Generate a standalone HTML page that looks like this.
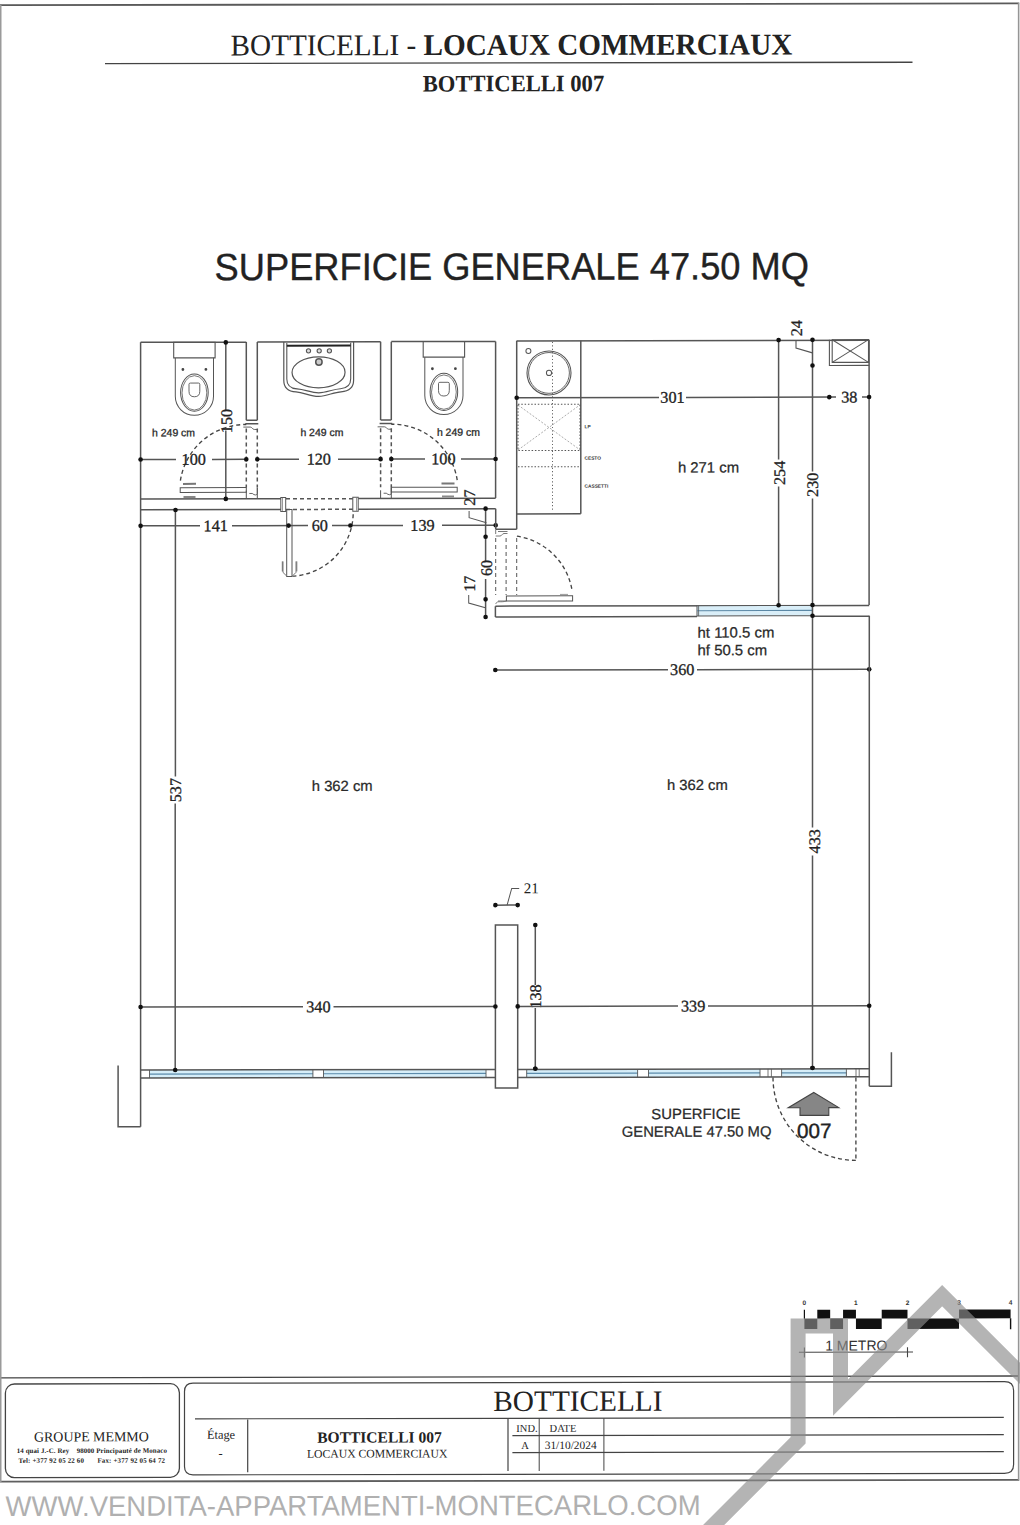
<!DOCTYPE html>
<html><head><meta charset="utf-8"><title>Botticelli 007</title>
<style>
html,body{margin:0;padding:0;background:#fff;}
body{width:1020px;height:1525px;overflow:hidden;font-family:"Liberation Sans",sans-serif;}
svg{display:block;}
</style></head><body>
<svg width="1020" height="1525" viewBox="0 0 1020 1525">
<rect width="1020" height="1525" fill="#fff"/>
<g transform="matrix(1 -0.0018 0 1 0 0.918)">
<text x="230.6" y="54.9" font-family='"Liberation Serif", serif' font-size="29.2" font-weight="400" text-anchor="start" fill="#222" transform="translate(230.6 54.9) scale(1 1.03) translate(-230.6 -54.9)">BOTTICELLI - <tspan font-weight="700">LOCAUX COMMERCIAUX</tspan></text>
<line x1="105" y1="62.9" x2="912.5" y2="62.9" stroke="#444" stroke-width="1.4"/>
<text x="513.5" y="91.3" font-family='"Liberation Serif", serif' font-size="22.6" font-weight="700" text-anchor="middle" fill="#222" transform="translate(513.5 91.3) scale(1 1.04) translate(-513.5 -91.3)">BOTTICELLI 007</text>
<text x="214.6" y="279.7" font-family='"Liberation Sans", sans-serif' font-size="36.27" font-weight="400" text-anchor="start" fill="#222" transform="translate(214.6 279.7) scale(1 1.05) translate(-214.6 -279.7)" stroke="#222" stroke-width="0.35">SUPERFICIE GENERALE 47.50 MQ</text>
<line x1="140.6" y1="341.7" x2="246.3" y2="341.7" stroke="#555" stroke-width="1.5"/>
<line x1="257.3" y1="341.5" x2="380.6" y2="341.5" stroke="#555" stroke-width="1.5"/>
<line x1="391.3" y1="341.4" x2="495.6" y2="341.4" stroke="#555" stroke-width="1.5"/>
<line x1="140.6" y1="341.7" x2="140.6" y2="1126" stroke="#555" stroke-width="1.5"/>
<line x1="246.3" y1="341.6" x2="246.3" y2="419.8" stroke="#555" stroke-width="1.5"/>
<line x1="257.3" y1="341.5" x2="257.3" y2="419.8" stroke="#555" stroke-width="1.5"/>
<line x1="246.3" y1="419.8" x2="257.3" y2="419.8" stroke="#555" stroke-width="1.5"/>
<line x1="245.3" y1="423.2" x2="258.3" y2="423.2" stroke="#555" stroke-width="1.5"/>
<path d="M243.3,426.6 L250.3,426.6 C252.3,426.6 252.3,429 254.3,429 L257.3,429" fill="none" stroke="#555" stroke-width="0.9"/>
<line x1="246.3" y1="428" x2="246.3" y2="487" stroke="#555" stroke-width="1.5" stroke-dasharray="4 3"/>
<line x1="257.3" y1="428" x2="257.3" y2="487" stroke="#555" stroke-width="1.5" stroke-dasharray="4 3"/>
<path d="M257.3,487.5 V493 C257.3,495 254.3,495 252.3,493 L249.3,493" fill="none" stroke="#555" stroke-width="0.9"/>
<line x1="246.3" y1="490" x2="246.3" y2="498.2" stroke="#555" stroke-width="1"/>
<line x1="257.3" y1="487" x2="257.3" y2="498.2" stroke="#555" stroke-width="1"/>
<line x1="380.6" y1="341.6" x2="380.6" y2="419.8" stroke="#555" stroke-width="1.5"/>
<line x1="391.3" y1="341.5" x2="391.3" y2="419.8" stroke="#555" stroke-width="1.5"/>
<line x1="380.6" y1="419.8" x2="391.3" y2="419.8" stroke="#555" stroke-width="1.5"/>
<line x1="379.6" y1="423.2" x2="392.3" y2="423.2" stroke="#555" stroke-width="1.5"/>
<path d="M377.6,426.6 L384.6,426.6 C386.6,426.6 386.6,429 388.6,429 L391.3,429" fill="none" stroke="#555" stroke-width="0.9"/>
<line x1="380.6" y1="428" x2="380.6" y2="487" stroke="#555" stroke-width="1.5" stroke-dasharray="4 3"/>
<line x1="391.3" y1="428" x2="391.3" y2="487" stroke="#555" stroke-width="1.5" stroke-dasharray="4 3"/>
<path d="M391.3,487.5 V493 C391.3,495 388.3,495 386.3,493 L383.6,493" fill="none" stroke="#555" stroke-width="0.9"/>
<line x1="380.6" y1="490" x2="380.6" y2="498.2" stroke="#555" stroke-width="1"/>
<line x1="391.3" y1="487" x2="391.3" y2="498.2" stroke="#555" stroke-width="1"/>
<line x1="495.6" y1="341.4" x2="495.6" y2="498.1" stroke="#555" stroke-width="1.5"/>
<line x1="140.6" y1="498.3" x2="281" y2="498.3" stroke="#555" stroke-width="1.5"/>
<line x1="358.2" y1="498.3" x2="495.6" y2="498.1" stroke="#555" stroke-width="1.5"/>
<line x1="286" y1="498.4" x2="352.8" y2="498.4" stroke="#555" stroke-width="1.5" stroke-dasharray="4 3"/>
<rect x="180.2" y="487.1" width="66.10000000000002" height="4.699999999999989" rx="0" fill="none" stroke="#555" stroke-width="1"/>
<rect x="183" y="482.3" width="13" height="2" fill="#777"/>
<rect x="183.5" y="495.4" width="12" height="2" fill="#888"/>
<path d="M180.4,480 A66,66 0 0 1 246.3,424" fill="none" stroke="#444" stroke-width="1.35" stroke-dasharray="4 3"/>
<rect x="391.3" y="487.1" width="65.89999999999998" height="4.699999999999989" rx="0" fill="none" stroke="#555" stroke-width="1"/>
<rect x="441.5" y="482.3" width="13" height="2" fill="#777"/>
<rect x="442" y="495.4" width="12" height="2" fill="#888"/>
<path d="M457.2,480 A66,66 0 0 0 391.3,424" fill="none" stroke="#444" stroke-width="1.35" stroke-dasharray="4 3"/>
<rect x="173.70000000000002" y="341.7" width="41.39999999999998" height="15.600000000000023" rx="0" fill="none" stroke="#555" stroke-width="1.1"/>
<path d="M175.3,357.3 L175.3,395.7 A19.0,19.0 0 0 0 213.5,395.7 L213.5,357.3" fill="none" stroke="#555" stroke-width="1.0"/>
<ellipse cx="194.4" cy="392.0" rx="13.8" ry="18.6" fill="none" stroke="#555" stroke-width="1.0"/>
<ellipse cx="194.4" cy="392.3" rx="12.4" ry="17.2" fill="none" stroke="#555" stroke-width="0.8"/>
<path d="M189.0,383.7 Q189.0,382.5 190.4,382.5 L198.4,382.5 Q199.8,382.5 199.8,383.7 L199.8,390.7 Q199.8,396.2 194.4,396.2 Q189.0,396.2 189.0,390.7 Z" fill="none" stroke="#555" stroke-width="0.9"/>
<circle cx="182.9" cy="368.9" r="1.4" fill="#444"/>
<circle cx="205.9" cy="368.9" r="1.4" fill="#444"/>
<rect x="423.2" y="341.4" width="41.39999999999998" height="15.600000000000023" rx="0" fill="none" stroke="#555" stroke-width="1.1"/>
<path d="M424.79999999999995,357.0 L424.79999999999995,395.4 A19.0,19.0 0 0 0 463.0,395.4 L463.0,357.0" fill="none" stroke="#555" stroke-width="1.0"/>
<ellipse cx="443.9" cy="391.7" rx="13.8" ry="18.6" fill="none" stroke="#555" stroke-width="1.0"/>
<ellipse cx="443.9" cy="392.0" rx="12.4" ry="17.2" fill="none" stroke="#555" stroke-width="0.8"/>
<path d="M438.5,383.4 Q438.5,382.2 439.9,382.2 L447.9,382.2 Q449.29999999999995,382.2 449.29999999999995,383.4 L449.29999999999995,390.4 Q449.29999999999995,395.9 443.9,395.9 Q438.5,395.9 438.5,390.4 Z" fill="none" stroke="#555" stroke-width="0.9"/>
<circle cx="432.4" cy="368.59999999999997" r="1.4" fill="#444"/>
<circle cx="455.4" cy="368.59999999999997" r="1.4" fill="#444"/>
<path d="M283.8,341.5 V380 C283.8,388 289,391 296,391.5 C304,392 310,396 318.7,396 C327,396 333,392 341,391.5 C348,391 353.6,388 353.6,380 V341.5" fill="none" stroke="#555" stroke-width="1.2"/>
<path d="M286.8,342.5 V378.5 C286.8,385 291,388 297,388.5 C305,389 311,392.5 318.7,392.5 C326.5,392.5 332.5,389 340.5,388.5 C346.5,388 350.7,385 350.7,378.5 V342.5" fill="none" stroke="#555" stroke-width="1.1"/>
<line x1="286.8" y1="345.3" x2="350.7" y2="345.3" stroke="#222" stroke-width="2.0"/>
<ellipse cx="318.55" cy="372" rx="26.5" ry="15.5" fill="none" stroke="#555" stroke-width="1.2"/>
<circle cx="318.9" cy="361.7" r="3.2" fill="#ccc" stroke="#555" stroke-width="1.5"/>
<circle cx="308.5" cy="350.5" r="2.1" fill="#ddd" stroke="#555" stroke-width="1.1"/>
<circle cx="319.2" cy="350.5" r="2.1" fill="#ddd" stroke="#555" stroke-width="1.1"/>
<circle cx="329.4" cy="350.5" r="2.1" fill="#ddd" stroke="#555" stroke-width="1.1"/>
<text x="152.1" y="435.6" font-family='"Liberation Sans", sans-serif' font-size="10.45" font-weight="400" text-anchor="start" fill="#2a2a2a" stroke="#2a2a2a" stroke-width="0.3">h 249 cm</text>
<text x="300.4" y="435.6" font-family='"Liberation Sans", sans-serif' font-size="10.45" font-weight="400" text-anchor="start" fill="#2a2a2a" stroke="#2a2a2a" stroke-width="0.3">h 249 cm</text>
<text x="436.9" y="435.6" font-family='"Liberation Sans", sans-serif' font-size="10.45" font-weight="400" text-anchor="start" fill="#2a2a2a" stroke="#2a2a2a" stroke-width="0.3">h 249 cm</text>
<line x1="140.6" y1="458.9" x2="176" y2="458.9" stroke="#555" stroke-width="1.5"/>
<line x1="212" y1="458.9" x2="246.3" y2="458.9" stroke="#555" stroke-width="1.5"/>
<line x1="257.3" y1="458.9" x2="299" y2="458.9" stroke="#555" stroke-width="1.5"/>
<line x1="338" y1="458.9" x2="380.6" y2="458.9" stroke="#555" stroke-width="1.5"/>
<line x1="391.3" y1="458.9" x2="425" y2="458.9" stroke="#555" stroke-width="1.5"/>
<line x1="461" y1="458.9" x2="495.6" y2="458.9" stroke="#555" stroke-width="1.5"/>
<circle cx="140.6" cy="458.9" r="2.3" fill="#111"/>
<circle cx="246.3" cy="458.9" r="2.3" fill="#111"/>
<circle cx="257.3" cy="458.9" r="2.3" fill="#111"/>
<circle cx="380.6" cy="458.9" r="2.3" fill="#111"/>
<circle cx="391.3" cy="458.9" r="2.3" fill="#111"/>
<circle cx="495.6" cy="458.9" r="2.3" fill="#111"/>
<text x="193.7" y="464.2" font-family='"Liberation Serif", serif' font-size="16.2" font-weight="400" text-anchor="middle" fill="#222" stroke="#222" stroke-width="0.3">100</text>
<text x="318.8" y="464.2" font-family='"Liberation Serif", serif' font-size="16.2" font-weight="400" text-anchor="middle" fill="#222" stroke="#222" stroke-width="0.3">120</text>
<text x="443.4" y="464.2" font-family='"Liberation Serif", serif' font-size="16.2" font-weight="400" text-anchor="middle" fill="#222" stroke="#222" stroke-width="0.3">100</text>
<line x1="225.8" y1="342" x2="225.8" y2="410" stroke="#555" stroke-width="1.5"/>
<line x1="225.8" y1="430" x2="225.8" y2="498.4" stroke="#555" stroke-width="1.5"/>
<circle cx="225.8" cy="341.9" r="2.3" fill="#111"/>
<circle cx="225.8" cy="498.4" r="2.3" fill="#111"/>
<text x="0" y="0" font-family='"Liberation Serif", serif' font-size="16.2" text-anchor="middle" fill="#222" stroke="#222" stroke-width="0.3" transform="translate(226.5 420.5) rotate(-90) translate(0 5.35)">150</text>
<line x1="140.6" y1="509.1" x2="281" y2="509.1" stroke="#555" stroke-width="1.5"/>
<line x1="358.2" y1="509.0" x2="495.7" y2="508.7" stroke="#555" stroke-width="1.5"/>
<line x1="286" y1="509.1" x2="352.8" y2="509.0" stroke="#555" stroke-width="1.5" stroke-dasharray="4 3"/>
<rect x="280.8" y="497" width="4.899999999999977" height="14.199999999999989" rx="0" fill="none" stroke="#555" stroke-width="1"/>
<rect x="352.8" y="497" width="5.399999999999977" height="14" rx="0" fill="none" stroke="#555" stroke-width="1"/>
<line x1="282.5" y1="497.5" x2="282.5" y2="510.5" stroke="#555" stroke-width="0.6"/>
<line x1="356.5" y1="497.5" x2="356.5" y2="510.5" stroke="#555" stroke-width="0.6"/>
<rect x="286.7" y="509.2" width="5.300000000000011" height="67.00000000000006" rx="0" fill="none" stroke="#555" stroke-width="1"/>
<path d="M292.5,575.8 A63.8,63.8 0 0 0 353.2,511" fill="none" stroke="#444" stroke-width="1.35" stroke-dasharray="4 3"/>
<path d="M283,561 V572 L286,575" fill="none" stroke="#555" stroke-width="0.8"/>
<path d="M296,561 V572 L293,575" fill="none" stroke="#555" stroke-width="0.8"/>
<line x1="282.3" y1="561" x2="282.3" y2="571" stroke="#555" stroke-width="0.8"/>
<line x1="296.8" y1="561" x2="296.8" y2="571" stroke="#555" stroke-width="0.8"/>
<line x1="140.6" y1="525.2" x2="200" y2="525.2" stroke="#555" stroke-width="1.5"/>
<line x1="232" y1="525.2" x2="308" y2="525.2" stroke="#555" stroke-width="1.5"/>
<line x1="332" y1="525.2" x2="403" y2="525.2" stroke="#555" stroke-width="1.5"/>
<line x1="442" y1="525.2" x2="495.7" y2="525.2" stroke="#555" stroke-width="1.5"/>
<circle cx="140.6" cy="525.2" r="2.3" fill="#111"/>
<circle cx="288.6" cy="525.2" r="2.3" fill="#111"/>
<circle cx="350.4" cy="525.2" r="2.3" fill="#111"/>
<circle cx="495.7" cy="525.2" r="2.3" fill="#111"/>
<text x="215.7" y="530.6" font-family='"Liberation Serif", serif' font-size="16.2" font-weight="400" text-anchor="middle" fill="#222" stroke="#222" stroke-width="0.3">141</text>
<text x="319.8" y="530.6" font-family='"Liberation Serif", serif' font-size="16.2" font-weight="400" text-anchor="middle" fill="#222" stroke="#222" stroke-width="0.3">60</text>
<text x="422.5" y="530.6" font-family='"Liberation Serif", serif' font-size="16.2" font-weight="400" text-anchor="middle" fill="#222" stroke="#222" stroke-width="0.3">139</text>
<line x1="175.4" y1="509.4" x2="175.4" y2="776" stroke="#555" stroke-width="1.5"/>
<line x1="175.2" y1="803" x2="175.2" y2="1069.4" stroke="#555" stroke-width="1.5"/>
<circle cx="175.5" cy="509.4" r="2.3" fill="#111"/>
<text x="0" y="0" font-family='"Liberation Serif", serif' font-size="16.2" text-anchor="middle" fill="#222" stroke="#222" stroke-width="0.3" transform="translate(176.0 789.5) rotate(-90) translate(0 5.35)">537</text>
<line x1="495.7" y1="508.7" x2="495.7" y2="529.2" stroke="#555" stroke-width="1.5"/>
<line x1="495.7" y1="529.2" x2="516.7" y2="529.2" stroke="#555" stroke-width="1.5"/>
<line x1="516.7" y1="340.8" x2="516.7" y2="529.2" stroke="#555" stroke-width="1.5"/>
<line x1="485.6" y1="508.6" x2="485.6" y2="561" stroke="#555" stroke-width="1.5"/>
<line x1="485.6" y1="579" x2="485.6" y2="617" stroke="#555" stroke-width="1.5"/>
<circle cx="485.6" cy="508.6" r="2.3" fill="#111"/>
<circle cx="485.6" cy="536.7" r="2.3" fill="#111"/>
<circle cx="485.6" cy="599.3" r="2.3" fill="#111"/>
<circle cx="485.6" cy="617" r="2.3" fill="#111"/>
<text x="0" y="0" font-family='"Liberation Serif", serif' font-size="16.2" text-anchor="middle" fill="#222" stroke="#222" stroke-width="0.3" transform="translate(470.0 497.5) rotate(-90) translate(0 5.35)">27</text>
<polyline points="469.1,511 469.1,517.6 486.4,522.7" fill="none" stroke="#555" stroke-width="1"/>
<text x="0" y="0" font-family='"Liberation Serif", serif' font-size="16.2" text-anchor="middle" fill="#222" stroke="#222" stroke-width="0.3" transform="translate(486.6 567.9) rotate(-90) translate(0 5.35)">60</text>
<text x="0" y="0" font-family='"Liberation Serif", serif' font-size="16.2" text-anchor="middle" fill="#222" stroke="#222" stroke-width="0.3" transform="translate(469.4 583.7) rotate(-90) translate(0 5.35)">17</text>
<polyline points="468.7,594.9 468.7,603 485.4,607.8" fill="none" stroke="#555" stroke-width="1"/>
<path d="M495.7,529.5 L495.7,534 M498,531.5 H507.5 M495.7,536 H500 C502,536 502,533.5 504,533.5 H507.5" fill="none" stroke="#555" stroke-width="0.8"/>
<line x1="495.7" y1="538" x2="495.7" y2="595" stroke="#555" stroke-width="1" stroke-dasharray="4 3"/>
<line x1="506.1" y1="538" x2="506.1" y2="595" stroke="#555" stroke-width="1" stroke-dasharray="4 3"/>
<line x1="516.7" y1="538" x2="516.7" y2="595" stroke="#555" stroke-width="1" stroke-dasharray="4 3"/>
<rect x="506.4" y="595.9" width="66.20000000000005" height="5.100000000000023" rx="0" fill="none" stroke="#555" stroke-width="1"/>
<line x1="498" y1="601" x2="506.4" y2="601" stroke="#555" stroke-width="0.8"/>
<path d="M495.7,604 C497,600 500,603 506.4,601" fill="none" stroke="#555" stroke-width="0.7"/>
<path d="M516.9,536.2 A65.8,65.8 0 0 1 572,590" fill="none" stroke="#444" stroke-width="1.35" stroke-dasharray="4 3"/>
<line x1="560" y1="594.5" x2="568" y2="594.5" stroke="#555" stroke-width="0.6"/>
<line x1="495.4" y1="606.1" x2="869.2" y2="606.1" stroke="#555" stroke-width="1.5"/>
<line x1="495.4" y1="616.9" x2="697" y2="616.9" stroke="#555" stroke-width="1.5"/>
<line x1="812.4" y1="616.9" x2="869.3" y2="616.9" stroke="#555" stroke-width="1.5"/>
<line x1="495.4" y1="606.2" x2="495.4" y2="617" stroke="#555" stroke-width="1.5"/>
<rect x="697" y="606" width="115.39999999999998" height="10.299999999999955" rx="0" fill="#d9eef8" stroke="#555" stroke-width="1"/>
<line x1="697" y1="611.1" x2="812.4" y2="610.9" stroke="#5b88a6" stroke-width="1.1"/>
<line x1="698.6" y1="606" x2="698.6" y2="616.3" stroke="#555" stroke-width="0.8"/>
<line x1="516.7" y1="340.9" x2="869.1" y2="340.9" stroke="#555" stroke-width="1.5"/>
<line x1="869.1" y1="340.3" x2="869.1" y2="605.7" stroke="#555" stroke-width="1.5"/>
<line x1="580.8" y1="340.8" x2="580.8" y2="513.9" stroke="#555" stroke-width="1.5"/>
<line x1="516.7" y1="513.9" x2="580.8" y2="513.9" stroke="#555" stroke-width="1.5"/>
<circle cx="549" cy="373" r="22" fill="none" stroke="#555" stroke-width="1.1"/>
<circle cx="549" cy="373" r="20.4" fill="none" stroke="#555" stroke-width="0.9"/>
<circle cx="549" cy="373" r="2.6" fill="none" stroke="#555" stroke-width="1"/>
<circle cx="528.4" cy="351" r="2.5" fill="none" stroke="#555" stroke-width="1"/>
<line x1="552.5" y1="342" x2="552.5" y2="512" stroke="#666" stroke-width="1" stroke-dasharray="1.2 2.2"/>
<rect x="518" y="404.3" width="62" height="46.19999999999999" rx="0" fill="none" stroke="#555" stroke-width="1" stroke-dasharray="1.5 1.8"/>
<line x1="518" y1="405" x2="580" y2="450" stroke="#888" stroke-width="0.7" stroke-dasharray="2 1.6"/>
<line x1="518" y1="450" x2="580" y2="405" stroke="#888" stroke-width="0.7" stroke-dasharray="2 1.6"/>
<line x1="518" y1="466.8" x2="580" y2="466.8" stroke="#555" stroke-width="1" stroke-dasharray="1.5 1.8"/>
<text x="584.5" y="428.5" font-family='"Liberation Sans", sans-serif' font-size="4.8" font-weight="700" text-anchor="start" fill="#333">LP</text>
<text x="584.5" y="460" font-family='"Liberation Sans", sans-serif' font-size="4.8" font-weight="700" text-anchor="start" fill="#333">CESTO</text>
<text x="584.5" y="488" font-family='"Liberation Sans", sans-serif' font-size="4.8" font-weight="700" text-anchor="start" fill="#333">CASSETTI</text>
<line x1="516.7" y1="397.7" x2="659" y2="397.7" stroke="#555" stroke-width="1.5"/>
<line x1="686" y1="397.7" x2="836" y2="397.7" stroke="#555" stroke-width="1.5"/>
<line x1="862" y1="397.7" x2="869.1" y2="397.7" stroke="#555" stroke-width="1.5"/>
<circle cx="516.7" cy="397.7" r="2.3" fill="#111"/>
<circle cx="829.3" cy="397.7" r="2.3" fill="#111"/>
<circle cx="869.1" cy="397.7" r="2.3" fill="#111"/>
<text x="672.5" y="403.0" font-family='"Liberation Serif", serif' font-size="16.2" font-weight="400" text-anchor="middle" fill="#222" stroke="#222" stroke-width="0.3">301</text>
<text x="849.3" y="403.0" font-family='"Liberation Serif", serif' font-size="16.2" font-weight="400" text-anchor="middle" fill="#222" stroke="#222" stroke-width="0.3">38</text>
<line x1="778.6" y1="340.6" x2="778.6" y2="460" stroke="#555" stroke-width="1.5"/>
<line x1="778.6" y1="487" x2="778.6" y2="605.7" stroke="#555" stroke-width="1.5"/>
<circle cx="778.6" cy="340.6" r="2.3" fill="#111"/>
<circle cx="778.6" cy="605.7" r="2.3" fill="#111"/>
<text x="0" y="0" font-family='"Liberation Serif", serif' font-size="16.2" text-anchor="middle" fill="#222" stroke="#222" stroke-width="0.3" transform="translate(779.6 473.4) rotate(-90) translate(0 5.35)">254</text>
<line x1="812.5" y1="340.4" x2="812.5" y2="472" stroke="#555" stroke-width="1.5"/>
<line x1="812.5" y1="499" x2="812.5" y2="828" stroke="#555" stroke-width="1.5"/>
<line x1="812.5" y1="856" x2="812.5" y2="1068.5" stroke="#555" stroke-width="1.5"/>
<circle cx="812.5" cy="340.4" r="2.3" fill="#111"/>
<circle cx="812.5" cy="366" r="2.3" fill="#111"/>
<circle cx="812.5" cy="605.6" r="2.3" fill="#111"/>
<circle cx="812.5" cy="616.3" r="2.3" fill="#111"/>
<circle cx="812.5" cy="1068.5" r="2.3" fill="#111"/>
<text x="0" y="0" font-family='"Liberation Serif", serif' font-size="16.2" text-anchor="middle" fill="#222" stroke="#222" stroke-width="0.3" transform="translate(813.0 485.3) rotate(-90) translate(0 5.35)">230</text>
<text x="0" y="0" font-family='"Liberation Serif", serif' font-size="16.2" text-anchor="middle" fill="#222" stroke="#222" stroke-width="0.3" transform="translate(814.3 841.8) rotate(-90) translate(0 5.35)">433</text>
<text x="0" y="0" font-family='"Liberation Serif", serif' font-size="16.2" text-anchor="middle" fill="#222" stroke="#222" stroke-width="0.3" transform="translate(796.2 328.8) rotate(-90) translate(0 5.35)">24</text>
<polyline points="796,340.6 796,348.6 812.4,353.4" fill="none" stroke="#555" stroke-width="1.1"/>
<polyline points="829.4,340.3 829.4,366 869.1,366" fill="none" stroke="#555" stroke-width="1.1"/>
<rect x="832.2" y="340.3" width="36.299999999999955" height="22.69999999999999" rx="0" fill="none" stroke="#555" stroke-width="1.1"/>
<line x1="832.2" y1="340.3" x2="868.5" y2="363" stroke="#555" stroke-width="1"/>
<line x1="832.2" y1="363" x2="868.5" y2="340.3" stroke="#555" stroke-width="1"/>
<text x="677.9" y="472.9" font-family='"Liberation Sans", sans-serif' font-size="14.9" font-weight="400" text-anchor="start" fill="#2a2a2a" stroke="#2a2a2a" stroke-width="0.25">h 271 cm</text>
<text x="697.6" y="638" font-family='"Liberation Sans", sans-serif' font-size="14.9" font-weight="400" text-anchor="start" fill="#2a2a2a" stroke="#2a2a2a" stroke-width="0.25">ht 110.5 cm</text>
<text x="697.6" y="655.7" font-family='"Liberation Sans", sans-serif' font-size="14.9" font-weight="400" text-anchor="start" fill="#2a2a2a" stroke="#2a2a2a" stroke-width="0.25">hf 50.5 cm</text>
<line x1="495.3" y1="670" x2="668" y2="670" stroke="#555" stroke-width="1.5"/>
<line x1="697" y1="670" x2="869.2" y2="670" stroke="#555" stroke-width="1.5"/>
<circle cx="495.3" cy="670" r="2.3" fill="#111"/>
<circle cx="869.2" cy="670" r="2.3" fill="#111"/>
<text x="682.2" y="675.4" font-family='"Liberation Serif", serif' font-size="16.2" font-weight="400" text-anchor="middle" fill="#222" stroke="#222" stroke-width="0.3">360</text>
<text x="311.8" y="790.6" font-family='"Liberation Sans", sans-serif' font-size="14.8" font-weight="400" text-anchor="start" fill="#2a2a2a" stroke="#2a2a2a" stroke-width="0.25">h 362 cm</text>
<text x="666.9" y="790.3" font-family='"Liberation Sans", sans-serif' font-size="14.8" font-weight="400" text-anchor="start" fill="#2a2a2a" stroke="#2a2a2a" stroke-width="0.25">h 362 cm</text>
<line x1="869.3" y1="616.3" x2="869.3" y2="1087" stroke="#555" stroke-width="1.5"/>
<polyline points="869.3,1087 891.4,1087 891.4,1053" fill="none" stroke="#555" stroke-width="1.5"/>
<polyline points="118.1,1064.7 118.1,1126 140.6,1126" fill="none" stroke="#555" stroke-width="1.5"/>
<rect x="495.4" y="925" width="22.300000000000068" height="163" rx="0" fill="#fff" stroke="#555" stroke-width="1.5"/>
<line x1="495.4" y1="905.1" x2="517.7" y2="905.1" stroke="#555" stroke-width="1.5"/>
<circle cx="495.4" cy="905.1" r="2.3" fill="#111"/>
<circle cx="517.7" cy="905.1" r="2.3" fill="#111"/>
<polyline points="507.1,905.1 511.7,888.4 519.2,888.4" fill="none" stroke="#555" stroke-width="1"/>
<text x="523.7" y="893.4" font-family='"Liberation Serif", serif' font-size="15" font-weight="400" text-anchor="start" fill="#222">21</text>
<line x1="535.3" y1="925" x2="535.3" y2="985" stroke="#555" stroke-width="1.5"/>
<line x1="535.3" y1="1008" x2="535.3" y2="1068.8" stroke="#555" stroke-width="1.5"/>
<circle cx="535.3" cy="925" r="2.3" fill="#111"/>
<circle cx="535.3" cy="1068.8" r="2.3" fill="#111"/>
<text x="0" y="0" font-family='"Liberation Serif", serif' font-size="16.2" text-anchor="middle" fill="#222" stroke="#222" stroke-width="0.3" transform="translate(535.6 996.5) rotate(-90) translate(0 5.35)">138</text>
<line x1="140.6" y1="1006.4" x2="303" y2="1006.4" stroke="#555" stroke-width="1.5"/>
<line x1="333.5" y1="1006.4" x2="495.4" y2="1006.4" stroke="#555" stroke-width="1.5"/>
<line x1="517.7" y1="1006.4" x2="678" y2="1006.4" stroke="#555" stroke-width="1.5"/>
<line x1="708" y1="1006.4" x2="869.2" y2="1006.4" stroke="#555" stroke-width="1.5"/>
<circle cx="140.6" cy="1006.4" r="2.3" fill="#111"/>
<circle cx="495.4" cy="1006.4" r="2.3" fill="#111"/>
<circle cx="517.7" cy="1006.4" r="2.3" fill="#111"/>
<circle cx="869.2" cy="1006.4" r="2.3" fill="#111"/>
<text x="318.4" y="1011.8" font-family='"Liberation Serif", serif' font-size="16.2" font-weight="400" text-anchor="middle" fill="#222" stroke="#222" stroke-width="0.3">340</text>
<text x="693.1" y="1011.8" font-family='"Liberation Serif", serif' font-size="16.2" font-weight="400" text-anchor="middle" fill="#222" stroke="#222" stroke-width="0.3">339</text>
<rect x="149.5" y="1069.4" width="163.39999999999998" height="8.0" rx="0" fill="#d6eef9" stroke="none" stroke-width="0"/>
<line x1="149.5" y1="1073.4" x2="312.9" y2="1073.4" stroke="#5b8bab" stroke-width="1.2"/>
<line x1="149.5" y1="1069.4" x2="149.5" y2="1077.4" stroke="#555" stroke-width="0.9"/>
<line x1="312.9" y1="1069.4" x2="312.9" y2="1077.4" stroke="#555" stroke-width="0.9"/>
<rect x="323.5" y="1069.4" width="162.5" height="8.0" rx="0" fill="#d6eef9" stroke="none" stroke-width="0"/>
<line x1="323.5" y1="1073.4" x2="486" y2="1073.4" stroke="#5b8bab" stroke-width="1.2"/>
<line x1="323.5" y1="1069.4" x2="323.5" y2="1077.4" stroke="#555" stroke-width="0.9"/>
<line x1="486" y1="1069.4" x2="486" y2="1077.4" stroke="#555" stroke-width="0.9"/>
<rect x="526.7" y="1069.4" width="110.89999999999998" height="8.0" rx="0" fill="#d6eef9" stroke="none" stroke-width="0"/>
<line x1="526.7" y1="1073.4" x2="637.6" y2="1073.4" stroke="#5b8bab" stroke-width="1.2"/>
<line x1="526.7" y1="1069.4" x2="526.7" y2="1077.4" stroke="#555" stroke-width="0.9"/>
<line x1="637.6" y1="1069.4" x2="637.6" y2="1077.4" stroke="#555" stroke-width="0.9"/>
<rect x="648.5" y="1069.4" width="111.5" height="8.0" rx="0" fill="#d6eef9" stroke="none" stroke-width="0"/>
<line x1="648.5" y1="1073.4" x2="760" y2="1073.4" stroke="#5b8bab" stroke-width="1.2"/>
<line x1="648.5" y1="1069.4" x2="648.5" y2="1077.4" stroke="#555" stroke-width="0.9"/>
<line x1="760" y1="1069.4" x2="760" y2="1077.4" stroke="#555" stroke-width="0.9"/>
<rect x="781.6" y="1069.4" width="64.79999999999995" height="8.0" rx="0" fill="#d6eef9" stroke="none" stroke-width="0"/>
<line x1="781.6" y1="1073.4" x2="846.4" y2="1073.4" stroke="#5b8bab" stroke-width="1.2"/>
<line x1="781.6" y1="1069.4" x2="781.6" y2="1077.4" stroke="#555" stroke-width="0.9"/>
<line x1="846.4" y1="1069.4" x2="846.4" y2="1077.4" stroke="#555" stroke-width="0.9"/>
<line x1="140.6" y1="1069.4" x2="495.4" y2="1069.4" stroke="#555" stroke-width="1.5"/>
<line x1="140.6" y1="1077.4" x2="495.4" y2="1077.4" stroke="#555" stroke-width="1.5"/>
<line x1="517.7" y1="1069.4" x2="869.3" y2="1069.4" stroke="#555" stroke-width="1.5"/>
<line x1="517.7" y1="1077.4" x2="869.3" y2="1077.4" stroke="#555" stroke-width="1.5"/>
<line x1="768" y1="1069.4" x2="768" y2="1077.4" stroke="#555" stroke-width="0.8"/>
<line x1="771.4" y1="1069.4" x2="771.4" y2="1077.4" stroke="#555" stroke-width="0.8"/>
<line x1="856" y1="1069.4" x2="856" y2="1077.4" stroke="#555" stroke-width="0.8"/>
<line x1="859.2" y1="1069.4" x2="859.2" y2="1077.4" stroke="#555" stroke-width="0.8"/>
<circle cx="175.2" cy="1069.4" r="2.3" fill="#111"/>
<circle cx="535.3" cy="1068.8" r="2.3" fill="#111"/>
<circle cx="812.5" cy="1068.5" r="2.3" fill="#111"/>
<line x1="855.9" y1="1078" x2="855.9" y2="1161" stroke="#444" stroke-width="1.35" stroke-dasharray="4 3"/>
<path d="M773,1078 A83,83 0 0 0 855.9,1161" fill="none" stroke="#444" stroke-width="1.35" stroke-dasharray="4 3"/>
<polygon points="813.8,1093 838.8,1108.2 828.8,1108.2 828.8,1115.9 800,1115.9 800,1108.2 788.2,1108.2" fill="#868686" stroke="#444" stroke-width="1.1"/>
<text x="814.2" y="1138.5" font-family='"Liberation Sans", sans-serif' font-size="20.6" font-weight="400" text-anchor="middle" fill="#222" stroke="#222" stroke-width="0.4">007</text>
<text x="695.9" y="1119.4" font-family='"Liberation Sans", sans-serif' font-size="14.85" font-weight="400" text-anchor="middle" fill="#2a2a2a" stroke="#2a2a2a" stroke-width="0.25">SUPERFICIE</text>
<text x="696.6" y="1137.0" font-family='"Liberation Sans", sans-serif' font-size="14.8" font-weight="400" text-anchor="middle" fill="#2a2a2a" stroke="#2a2a2a" stroke-width="0.25">GENERALE 47.50 MQ</text>
<rect x="817.29" y="1310.4" width="12.89" height="8.799999999999955" fill="#111"/>
<rect x="843.06" y="1310.4" width="12.89" height="8.799999999999955" fill="#111"/>
<rect x="881.72" y="1310.4" width="25.77" height="8.799999999999955" fill="#111"/>
<rect x="959.05" y="1310.4" width="51.55" height="8.799999999999955" fill="#111"/>
<rect x="804.40" y="1319.2" width="12.89" height="10.399999999999864" fill="#111"/>
<rect x="830.17" y="1319.2" width="12.89" height="10.399999999999864" fill="#111"/>
<rect x="855.95" y="1319.2" width="25.77" height="10.399999999999864" fill="#111"/>
<rect x="907.50" y="1319.2" width="51.55" height="10.399999999999864" fill="#111"/>
<line x1="804.4" y1="1310.4" x2="804.4" y2="1319.2" stroke="#111" stroke-width="1.2"/>
<line x1="1010.5999999999999" y1="1319.2" x2="1010.5999999999999" y2="1330.1" stroke="#111" stroke-width="1.4"/>
<text x="804.4" y="1305.6" font-family='"Liberation Sans", sans-serif' font-size="6.5" font-weight="700" text-anchor="middle" fill="#333">0</text>
<text x="855.9499999999999" y="1305.6" font-family='"Liberation Sans", sans-serif' font-size="6.5" font-weight="700" text-anchor="middle" fill="#333">1</text>
<text x="907.5" y="1305.6" font-family='"Liberation Sans", sans-serif' font-size="6.5" font-weight="700" text-anchor="middle" fill="#333">2</text>
<text x="959.05" y="1305.6" font-family='"Liberation Sans", sans-serif' font-size="6.5" font-weight="700" text-anchor="middle" fill="#333">3</text>
<text x="1010.5999999999999" y="1305.6" font-family='"Liberation Sans", sans-serif' font-size="6.5" font-weight="700" text-anchor="middle" fill="#333">4</text>
<text x="856.3" y="1351" font-family='"Liberation Sans", sans-serif' font-size="14" font-weight="400" text-anchor="middle" fill="#333">1 METRO</text>
<line x1="798.9" y1="1352.8" x2="913" y2="1352.8" stroke="#444" stroke-width="1.1"/>
<line x1="804.4" y1="1348" x2="804.4" y2="1358" stroke="#444" stroke-width="1.1"/>
<line x1="907.5" y1="1348" x2="907.5" y2="1358" stroke="#444" stroke-width="1.1"/>
<line x1="0" y1="1376.9" x2="1018.5" y2="1376.9" stroke="#444" stroke-width="1.3"/>
<rect x="5.4" y="1383.1" width="174.0" height="93.60000000000014" rx="9" fill="none" stroke="#444" stroke-width="1.3"/>
<path d="M193,1382.6 H1004.5 Q1013.6,1382.6 1013.6,1391.5 V1465.5 Q1013.6,1474.3 1004.5,1474.3 H193 Q184.5,1474.3 184.5,1466 V1391 Q184.5,1382.6 193,1382.6 Z" fill="none" stroke="#444" stroke-width="1.2"/>
<text x="91.4" y="1440.6" font-family='"Liberation Serif", serif' font-size="13.9" font-weight="400" text-anchor="middle" fill="#222">GROUPE MEMMO</text>
<text x="16.7" y="1452.2" font-family='"Liberation Serif", serif' font-size="6.9" font-weight="700" text-anchor="start" fill="#222" textLength="150.3" lengthAdjust="spacing">14 quai J.-C. Rey &#160;&#160;&#160;98000 Principauté de Monaco</text>
<text x="18.6" y="1462" font-family='"Liberation Serif", serif' font-size="6.9" font-weight="700" text-anchor="start" fill="#222" textLength="146.4" lengthAdjust="spacing">Tel: +377 92 05 22 60 &#160;&#160;&#160;&#160;&#160; Fax: +377 92 05 64 72</text>
<line x1="195" y1="1418.3" x2="1003.8" y2="1418.3" stroke="#444" stroke-width="1.2"/>
<line x1="247.7" y1="1419" x2="247.7" y2="1471.7" stroke="#444" stroke-width="1.2"/>
<line x1="508" y1="1418.5" x2="508" y2="1471" stroke="#444" stroke-width="1.2"/>
<line x1="539.2" y1="1418.5" x2="539.2" y2="1471" stroke="#444" stroke-width="1"/>
<line x1="603.9" y1="1418.3" x2="603.9" y2="1471" stroke="#444" stroke-width="1"/>
<line x1="512.4" y1="1435.6" x2="1003.8" y2="1435.6" stroke="#444" stroke-width="1.2"/>
<line x1="512.4" y1="1452.6" x2="1003.8" y2="1452.6" stroke="#444" stroke-width="1.2"/>
<text x="221" y="1438.3" font-family='"Liberation Serif", serif' font-size="12.4" font-weight="400" text-anchor="middle" fill="#222">Étage</text>
<text x="220.7" y="1457" font-family='"Liberation Serif", serif' font-size="12.4" font-weight="700" text-anchor="middle" fill="#222">-</text>
<text x="379.5" y="1442.3" font-family='"Liberation Serif", serif' font-size="15.5" font-weight="700" text-anchor="middle" fill="#222">BOTTICELLI 007</text>
<text x="377.2" y="1457.3" font-family='"Liberation Serif", serif' font-size="11.68" font-weight="400" text-anchor="middle" fill="#222">LOCAUX COMMERCIAUX</text>
<text x="493.3" y="1410.9" font-family='"Liberation Serif", serif' font-size="29.3" font-weight="400" text-anchor="start" fill="#222">BOTTICELLI</text>
<text x="527" y="1431.9" font-family='"Liberation Serif", serif' font-size="10.5" font-weight="400" text-anchor="middle" fill="#222">IND.</text>
<text x="563" y="1431.9" font-family='"Liberation Serif", serif' font-size="10.5" font-weight="400" text-anchor="middle" fill="#222">DATE</text>
<text x="525" y="1449.1" font-family='"Liberation Serif", serif' font-size="10.5" font-weight="400" text-anchor="middle" fill="#222">A</text>
<text x="570.7" y="1449.1" font-family='"Liberation Serif", serif' font-size="11.4" font-weight="400" text-anchor="middle" fill="#222">31/10/2024</text>
<line x1="0" y1="4.3" x2="1019.3" y2="4.3" stroke="#5a5a5a" stroke-width="1.8"/>
<line x1="0" y1="1480.8" x2="1019.3" y2="1480.8" stroke="#5f5f5f" stroke-width="1.8"/>
<line x1="0.7" y1="4" x2="0.7" y2="1481" stroke="#9a9a9a" stroke-width="1.6"/>
<line x1="1018.6" y1="4" x2="1018.6" y2="1481" stroke="#959595" stroke-width="1.5"/>
<line x1="1019.7" y1="4" x2="1019.7" y2="1481" stroke="#cfcfcf" stroke-width="0.8"/>
<polyline points="694,1545 798.1,1440.9 798.1,1326.6 840.5,1326.6 840.5,1398.1 942.15,1296.45 1060,1414.3" fill="none" stroke="#8c8c8c" stroke-opacity="0.65" stroke-width="15" stroke-linejoin="miter" stroke-miterlimit="6"/>
<text x="5.6" y="1515.2" font-family='"Liberation Sans", sans-serif' font-size="28.4" fill="#b0b0b0" textLength="695" lengthAdjust="spacingAndGlyphs">WWW.VENDITA-APPARTAMENTI-MONTECARLO.COM</text>
</g>
</svg>
</body></html>
